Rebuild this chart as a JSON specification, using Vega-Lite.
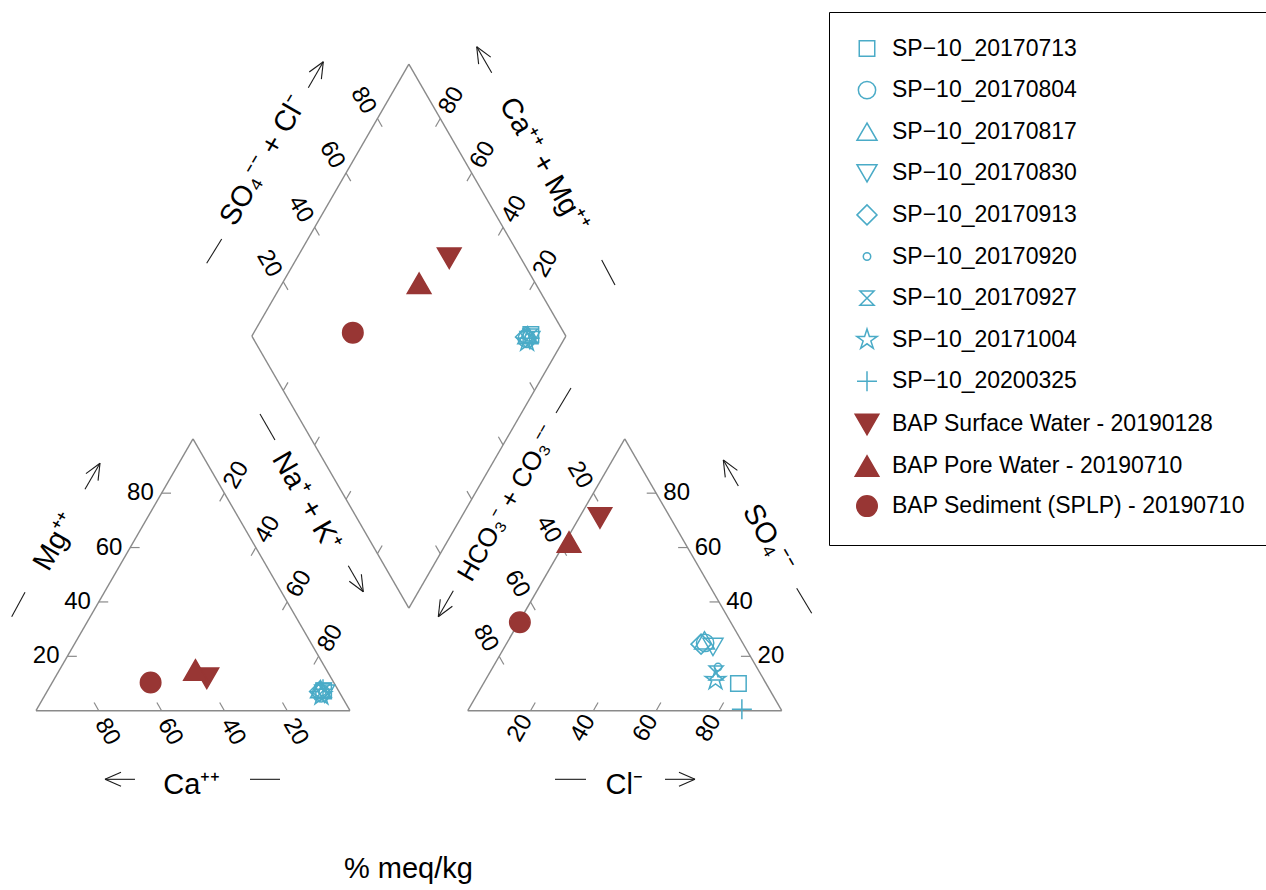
{
"$schema": "https://vega.github.io/schema/vega-lite/v6.json",
"width": 1266, "height": 890, "padding": 0, "autosize": {"type": "none"},
"background": "white",
"config": {"view": {"stroke": null}, "font": "Liberation Sans",
  "legend": {"orient": "none", "legendX": 829, "legendY": 12, "padding": 25, "strokeColor": "black", "strokeWidth": 1, "fillColor": "white", "labelFontSize": 23, "labelFont": "Liberation Sans", "labelColor": "black", "labelLimit": 0, "rowPadding": 11.6, "gridAlign": "all", "labelOffset": 12, "symbolStrokeWidth": 1.5, "symbolOpacity": 1}},
"datasets": {
"segs": [
{"k":"f","x":0,"y":0,"x2":100,"y2":0},
{"k":"f","x":100,"y":0,"x2":50,"y2":86.6},
{"k":"f","x":50,"y":86.6,"x2":0,"y2":0},
{"k":"f","x":137.5,"y":0,"x2":237.5,"y2":0},
{"k":"f","x":237.5,"y":0,"x2":187.5,"y2":86.6},
{"k":"f","x":187.5,"y":86.6,"x2":137.5,"y2":0},
{"k":"f","x":68.75,"y":119.3,"x2":118.75,"y2":205.9},
{"k":"f","x":118.75,"y":205.9,"x2":168.75,"y2":119.3},
{"k":"f","x":168.75,"y":119.3,"x2":118.75,"y2":32.7},
{"k":"f","x":118.75,"y":32.7,"x2":68.75,"y2":119.3},
{"k":"t","x":20,"y":0,"x2":18.5,"y2":2.6},
{"k":"t","x":40,"y":0,"x2":38.5,"y2":2.6},
{"k":"t","x":60,"y":0,"x2":58.5,"y2":2.6},
{"k":"t","x":80,"y":0,"x2":78.5,"y2":2.6},
{"k":"t","x":10,"y":17.32,"x2":13,"y2":17.32},
{"k":"t","x":20,"y":34.64,"x2":23,"y2":34.64},
{"k":"t","x":30,"y":51.96,"x2":33,"y2":51.96},
{"k":"t","x":40,"y":69.28,"x2":43,"y2":69.28},
{"k":"t","x":90,"y":17.32,"x2":88.5,"y2":14.72},
{"k":"t","x":80,"y":34.64,"x2":78.5,"y2":32.04},
{"k":"t","x":70,"y":51.96,"x2":68.5,"y2":49.36},
{"k":"t","x":60,"y":69.28,"x2":58.5,"y2":66.68},
{"k":"t","x":157.5,"y":0,"x2":159,"y2":2.6},
{"k":"t","x":177.5,"y":0,"x2":179,"y2":2.6},
{"k":"t","x":197.5,"y":0,"x2":199,"y2":2.6},
{"k":"t","x":217.5,"y":0,"x2":219,"y2":2.6},
{"k":"t","x":147.5,"y":17.32,"x2":149,"y2":14.72},
{"k":"t","x":157.5,"y":34.64,"x2":159,"y2":32.04},
{"k":"t","x":167.5,"y":51.96,"x2":169,"y2":49.36},
{"k":"t","x":177.5,"y":69.28,"x2":179,"y2":66.68},
{"k":"t","x":227.5,"y":17.32,"x2":224.5,"y2":17.32},
{"k":"t","x":217.5,"y":34.64,"x2":214.5,"y2":34.64},
{"k":"t","x":207.5,"y":51.96,"x2":204.5,"y2":51.96},
{"k":"t","x":197.5,"y":69.28,"x2":194.5,"y2":69.28},
{"k":"t","x":78.75,"y":136.62,"x2":80.25,"y2":134.02},
{"k":"t","x":88.75,"y":153.94,"x2":90.25,"y2":151.34},
{"k":"t","x":98.75,"y":171.26,"x2":100.25,"y2":168.66},
{"k":"t","x":108.75,"y":188.58,"x2":110.25,"y2":185.98},
{"k":"t","x":128.75,"y":188.58,"x2":127.25,"y2":185.98},
{"k":"t","x":138.75,"y":171.26,"x2":137.25,"y2":168.66},
{"k":"t","x":148.75,"y":153.94,"x2":147.25,"y2":151.34},
{"k":"t","x":158.75,"y":136.62,"x2":157.25,"y2":134.02},
{"k":"t","x":108.75,"y":50.02,"x2":110.25,"y2":52.62},
{"k":"t","x":98.75,"y":67.34,"x2":100.25,"y2":69.94},
{"k":"t","x":88.75,"y":84.66,"x2":90.25,"y2":87.26},
{"k":"t","x":78.75,"y":101.98,"x2":80.25,"y2":104.58},
{"k":"t","x":158.75,"y":101.98,"x2":157.25,"y2":104.58},
{"k":"t","x":148.75,"y":84.66,"x2":147.25,"y2":87.26},
{"k":"t","x":138.75,"y":67.34,"x2":137.25,"y2":69.94},
{"k":"t","x":128.75,"y":50.02,"x2":127.25,"y2":52.62},
{"k":"a","x":15.60,"y":70.52,"x2":20.38,"y2":78.79},
{"k":"a","x":20.38,"y":78.79,"x2":19.76,"y2":73.26},
{"k":"a","x":20.38,"y":78.79,"x2":15.90,"y2":75.49},
{"k":"a","x":31.52,"y":-21.85,"x2":21.97,"y2":-21.85},
{"k":"a","x":21.97,"y":-21.85,"x2":27.07,"y2":-19.62},
{"k":"a","x":21.97,"y":-21.85,"x2":27.07,"y2":-24.08},
{"k":"a","x":99.46,"y":46.17,"x2":104.24,"y2":37.90},
{"k":"a","x":104.24,"y":37.90,"x2":103.62,"y2":43.44},
{"k":"a","x":104.24,"y":37.90,"x2":99.76,"y2":41.21},
{"k":"a","x":200.32,"y":-21.85,"x2":209.87,"y2":-21.85},
{"k":"a","x":209.87,"y":-21.85,"x2":204.77,"y2":-19.62},
{"k":"a","x":209.87,"y":-21.85,"x2":204.77,"y2":-24.08},
{"k":"a","x":223.67,"y":71.57,"x2":218.89,"y2":79.84},
{"k":"a","x":218.89,"y":79.84,"x2":223.37,"y2":76.54},
{"k":"a","x":218.89,"y":79.84,"x2":219.51,"y2":74.31},
{"k":"a","x":132.90,"y":38.21,"x2":128.12,"y2":29.94},
{"k":"a","x":128.12,"y":29.94,"x2":132.60,"y2":33.25},
{"k":"a","x":128.12,"y":29.94,"x2":128.74,"y2":35.48},
{"k":"a","x":86.72,"y":198.42,"x2":91.50,"y2":206.69},
{"k":"a","x":91.50,"y":206.69,"x2":90.88,"y2":201.16},
{"k":"a","x":91.50,"y":206.69,"x2":87.02,"y2":203.39},
{"k":"a","x":145.13,"y":203.19,"x2":140.35,"y2":211.46},
{"k":"a","x":140.35,"y":211.46,"x2":144.83,"y2":208.16},
{"k":"a","x":140.35,"y":211.46,"x2":140.97,"y2":205.93},
{"k":"a","x":-7.74,"y":29.94,"x2":-3.50,"y2":37.71},
{"k":"a","x":68.15,"y":-21.85,"x2":77.71,"y2":-21.85},
{"k":"a","x":71.34,"y":94.49,"x2":76.11,"y2":86.21},
{"k":"a","x":165.29,"y":-21.85,"x2":175.16,"y2":-21.85},
{"k":"a","x":242.26,"y":38.98,"x2":247.04,"y2":31.02},
{"k":"a","x":165.61,"y":94.81,"x2":170.38,"y2":102.77},
{"k":"a","x":54.36,"y":142.48,"x2":59.14,"y2":150.22},
{"k":"a","x":180.16,"y":143.54,"x2":184.39,"y2":135.57}
],
"labels": [
{"g":"r0","t":"20","x":7.5,"y":17.32},
{"g":"r0","t":"40","x":17.5,"y":34.64},
{"g":"r0","t":"60","x":27.5,"y":51.96},
{"g":"r0","t":"80","x":37.5,"y":69.28},
{"g":"l0","t":"80","x":199.8,"y":69.28},
{"g":"l0","t":"60","x":209.8,"y":51.96},
{"g":"l0","t":"40","x":219.8,"y":34.64},
{"g":"l0","t":"20","x":229.8,"y":17.32},
{"g":"p60","t":"80","x":22.7,"y":-6.7},
{"g":"p60","t":"60","x":42.7,"y":-6.7},
{"g":"p60","t":"40","x":62.7,"y":-6.7},
{"g":"p60","t":"20","x":82.7,"y":-6.7},
{"g":"p60","t":"20","x":173.2,"y":75.03},
{"g":"p60","t":"40","x":163.2,"y":57.71},
{"g":"p60","t":"60","x":153.2,"y":40.39},
{"g":"p60","t":"80","x":143.2,"y":23.07},
{"g":"p60","t":"20","x":74.25,"y":142.37},
{"g":"p60","t":"40","x":84.25,"y":159.69},
{"g":"p60","t":"60","x":94.25,"y":177.01},
{"g":"p60","t":"80","x":104.25,"y":194.33},
{"g":"m60","t":"20","x":63.8,"y":75.03},
{"g":"m60","t":"40","x":73.8,"y":57.71},
{"g":"m60","t":"60","x":83.8,"y":40.39},
{"g":"m60","t":"80","x":93.8,"y":23.07},
{"g":"m60","t":"20","x":154.2,"y":-5.6},
{"g":"m60","t":"40","x":174.2,"y":-5.6},
{"g":"m60","t":"60","x":194.2,"y":-5.6},
{"g":"m60","t":"80","x":214.2,"y":-5.6},
{"g":"m60","t":"80","x":132.35,"y":194.33},
{"g":"m60","t":"60","x":142.35,"y":177.01},
{"g":"m60","t":"40","x":152.35,"y":159.69},
{"g":"m60","t":"20","x":162.35,"y":142.37},
{"g":"T0","t":"Ca⁺⁺","x":49.6,"y":-23.7},
{"g":"T0","t":"Cl⁻","x":187.3,"y":-23.7},
{"g":"T0","t":"% meq/kg","x":118.6,"y":-50.5},
{"g":"Tp60","t":"Na⁺ + K⁺","x":86.2,"y":66.6},
{"g":"Tp60","t":"SO₄⁻⁻","x":233.2,"y":54.9},
{"g":"Tp60","t":"Ca⁺⁺ + Mg⁺⁺","x":161.8,"y":173.8},
{"g":"Tm60","t":"Mg⁺⁺","x":6.3,"y":53.8},
{"g":"Tm60s","t":"HCO₃⁻ + CO₃⁻⁻","x":150.4,"y":66.05},
{"g":"Tm60","t":"SO₄⁻⁻ + Cl⁻","x":72.4,"y":175.2}
],
"pts": [
{"s":"SP−10_20170713","x":91.6,"y":6.3},
{"s":"SP−10_20170804","x":90.8,"y":5.5},
{"s":"SP−10_20170817","x":90.6,"y":6.9},
{"s":"SP−10_20170830","x":91.9,"y":5.4},
{"s":"SP−10_20170913","x":90.3,"y":6.1},
{"s":"SP−10_20170920","x":91.2,"y":6.0},
{"s":"SP−10_20170927","x":91.7,"y":6.6},
{"s":"SP−10_20171004","x":90.9,"y":5.0},
{"s":"SP−10_20200325","x":91.4,"y":6.8},
{"s":"SP−10_20170713","x":223.7,"y":8.7},
{"s":"SP−10_20170804","x":213.1,"y":21.6},
{"s":"SP−10_20170817","x":212.9,"y":22.4},
{"s":"SP−10_20170830","x":215.6,"y":20.3},
{"s":"SP−10_20170913","x":211.8,"y":21.2},
{"s":"SP−10_20170920","x":217.2,"y":13.9},
{"s":"SP−10_20170927","x":216.6,"y":12.0},
{"s":"SP−10_20171004","x":216.4,"y":9.8},
{"s":"SP−10_20200325","x":224.8,"y":0.5},
{"s":"SP−10_20170713","x":157.6,"y":119.8},
{"s":"SP−10_20170804","x":156.3,"y":118.4},
{"s":"SP−10_20170817","x":156.6,"y":119.6},
{"s":"SP−10_20170830","x":157.3,"y":118.0},
{"s":"SP−10_20170913","x":155.9,"y":119.0},
{"s":"SP−10_20170920","x":156.9,"y":118.9},
{"s":"SP−10_20170927","x":157.5,"y":119.3},
{"s":"SP−10_20171004","x":156.4,"y":117.6},
{"s":"SP−10_20200325","x":157.2,"y":118.6},
{"s":"BAP Surface Water - 20190128","x":54.4,"y":10.3},
{"s":"BAP Pore Water - 20190710","x":50.8,"y":13.0},
{"s":"BAP Sediment (SPLP) - 20190710","x":36.5,"y":9.0},
{"s":"BAP Surface Water - 20190128","x":179.6,"y":61.4},
{"s":"BAP Pore Water - 20190710","x":169.75,"y":53.7},
{"s":"BAP Sediment (SPLP) - 20190710","x":154.1,"y":28.2},
{"s":"BAP Surface Water - 20190128","x":131.6,"y":144.1},
{"s":"BAP Pore Water - 20190710","x":122.0,"y":136.1},
{"s":"BAP Sediment (SPLP) - 20190710","x":100.9,"y":120.4}
]
},
"layer": [
{"data": {"name": "segs"}, "transform": [{"filter": "datum.k == 'f'"}],
 "mark": {"type": "rule", "color": "#8a8a8a", "strokeWidth": 1.4},
 "encoding": {
  "x": {"field": "x", "type": "quantitative", "scale": {"domain": [-11.465, 391.72], "nice": false, "zero": false}, "axis": null},
  "y": {"field": "y", "type": "quantitative", "scale": {"domain": [-57.1, 226.34], "nice": false, "zero": false}, "axis": null},
  "x2": {"field": "x2"}, "y2": {"field": "y2"}}},
{"data": {"name": "segs"}, "transform": [{"filter": "datum.k == 't'"}],
 "mark": {"type": "rule", "color": "#8a8a8a", "strokeWidth": 1.2},
 "encoding": {"x": {"field": "x", "type": "quantitative"}, "y": {"field": "y", "type": "quantitative"}, "x2": {"field": "x2"}, "y2": {"field": "y2"}}},
{"data": {"name": "segs"}, "transform": [{"filter": "datum.k == 'a'"}],
 "mark": {"type": "rule", "color": "#1a1a1a", "strokeWidth": 1.1},
 "encoding": {"x": {"field": "x", "type": "quantitative"}, "y": {"field": "y", "type": "quantitative"}, "x2": {"field": "x2"}, "y2": {"field": "y2"}}},
{"data": {"name": "labels"}, "transform": [{"filter": "datum.g == 'r0'"}],
 "mark": {"type": "text", "align": "right", "baseline": "middle", "fontSize": 24, "color": "black"},
 "encoding": {"x": {"field": "x", "type": "quantitative"}, "y": {"field": "y", "type": "quantitative"}, "text": {"field": "t"}}},
{"data": {"name": "labels"}, "transform": [{"filter": "datum.g == 'l0'"}],
 "mark": {"type": "text", "align": "left", "baseline": "middle", "fontSize": 24, "color": "black"},
 "encoding": {"x": {"field": "x", "type": "quantitative"}, "y": {"field": "y", "type": "quantitative"}, "text": {"field": "t"}}},
{"data": {"name": "labels"}, "transform": [{"filter": "datum.g == 'p60'"}],
 "mark": {"type": "text", "align": "center", "baseline": "middle", "fontSize": 24, "angle": 60, "color": "black"},
 "encoding": {"x": {"field": "x", "type": "quantitative"}, "y": {"field": "y", "type": "quantitative"}, "text": {"field": "t"}}},
{"data": {"name": "labels"}, "transform": [{"filter": "datum.g == 'm60'"}],
 "mark": {"type": "text", "align": "center", "baseline": "middle", "fontSize": 24, "angle": 300, "color": "black"},
 "encoding": {"x": {"field": "x", "type": "quantitative"}, "y": {"field": "y", "type": "quantitative"}, "text": {"field": "t"}}},
{"data": {"name": "labels"}, "transform": [{"filter": "datum.g == 'T0'"}],
 "mark": {"type": "text", "align": "center", "baseline": "middle", "fontSize": 29, "color": "black"},
 "encoding": {"x": {"field": "x", "type": "quantitative"}, "y": {"field": "y", "type": "quantitative"}, "text": {"field": "t"}}},
{"data": {"name": "labels"}, "transform": [{"filter": "datum.g == 'Tp60'"}],
 "mark": {"type": "text", "align": "center", "baseline": "middle", "fontSize": 29, "angle": 60, "color": "black"},
 "encoding": {"x": {"field": "x", "type": "quantitative"}, "y": {"field": "y", "type": "quantitative"}, "text": {"field": "t"}}},
{"data": {"name": "labels"}, "transform": [{"filter": "datum.g == 'Tm60'"}],
 "mark": {"type": "text", "align": "center", "baseline": "middle", "fontSize": 29, "angle": 300, "color": "black"},
 "encoding": {"x": {"field": "x", "type": "quantitative"}, "y": {"field": "y", "type": "quantitative"}, "text": {"field": "t"}}},
{"data": {"name": "labels"}, "transform": [{"filter": "datum.g == 'Tm60s'"}],
 "mark": {"type": "text", "align": "center", "baseline": "middle", "fontSize": 26, "angle": 300, "color": "black"},
 "encoding": {"x": {"field": "x", "type": "quantitative"}, "y": {"field": "y", "type": "quantitative"}, "text": {"field": "t"}}},
{"data": {"name": "pts"},
 "mark": {"type": "point", "filled": false, "opacity": 1, "strokeWidth": 1.5},
 "encoding": {
  "x": {"field": "x", "type": "quantitative"},
  "y": {"field": "y", "type": "quantitative"},
  "shape": {"field": "s", "type": "nominal", "title": null,
    "scale": {"domain": ["SP−10_20170713","SP−10_20170804","SP−10_20170817","SP−10_20170830","SP−10_20170913","SP−10_20170920","SP−10_20170927","SP−10_20171004","SP−10_20200325","BAP Surface Water - 20190128","BAP Pore Water - 20190710","BAP Sediment (SPLP) - 20190710"],
      "range": ["square","circle","triangle-up","triangle-down","diamond","circle","M-1,-1L1,-1L-1,1L1,1Z","M0,-1L0.223,-0.307L0.951,-0.309L0.361,0.117L0.588,0.809L0,0.38L-0.588,0.809L-0.361,0.117L-0.951,-0.309L-0.223,-0.307Z","M-1,0L1,0M0,-1L0,1","triangle-down","triangle-up","circle"]},
    "legend": {"orient": "none", "legendX": 829, "legendY": 12}},
  "stroke": {"field": "s", "type": "nominal", "title": null,
    "scale": {"domain": ["SP−10_20170713","SP−10_20170804","SP−10_20170817","SP−10_20170830","SP−10_20170913","SP−10_20170920","SP−10_20170927","SP−10_20171004","SP−10_20200325","BAP Surface Water - 20190128","BAP Pore Water - 20190710","BAP Sediment (SPLP) - 20190710"],
      "range": ["#4aabc7","#4aabc7","#4aabc7","#4aabc7","#4aabc7","#4aabc7","#4aabc7","#4aabc7","#4aabc7","#983634","#983634","#983634"]}},
  "fill": {"field": "s", "type": "nominal", "title": null,
    "scale": {"domain": ["SP−10_20170713","SP−10_20170804","SP−10_20170817","SP−10_20170830","SP−10_20170913","SP−10_20170920","SP−10_20170927","SP−10_20171004","SP−10_20200325","BAP Surface Water - 20190128","BAP Pore Water - 20190710","BAP Sediment (SPLP) - 20190710"],
      "range": ["transparent","transparent","transparent","transparent","transparent","transparent","transparent","transparent","transparent","#983634","#983634","#983634"]}},
  "size": {"field": "s", "type": "nominal", "title": null,
    "scale": {"type": "ordinal", "domain": ["SP−10_20170713","SP−10_20170804","SP−10_20170817","SP−10_20170830","SP−10_20170913","SP−10_20170920","SP−10_20170927","SP−10_20171004","SP−10_20200325","BAP Surface Water - 20190128","BAP Pore Water - 20190710","BAP Sediment (SPLP) - 20190710"],
      "range": [240, 300, 400, 400, 400, 55, 200, 460, 400, 560, 560, 420]}}
 }}
]
}
